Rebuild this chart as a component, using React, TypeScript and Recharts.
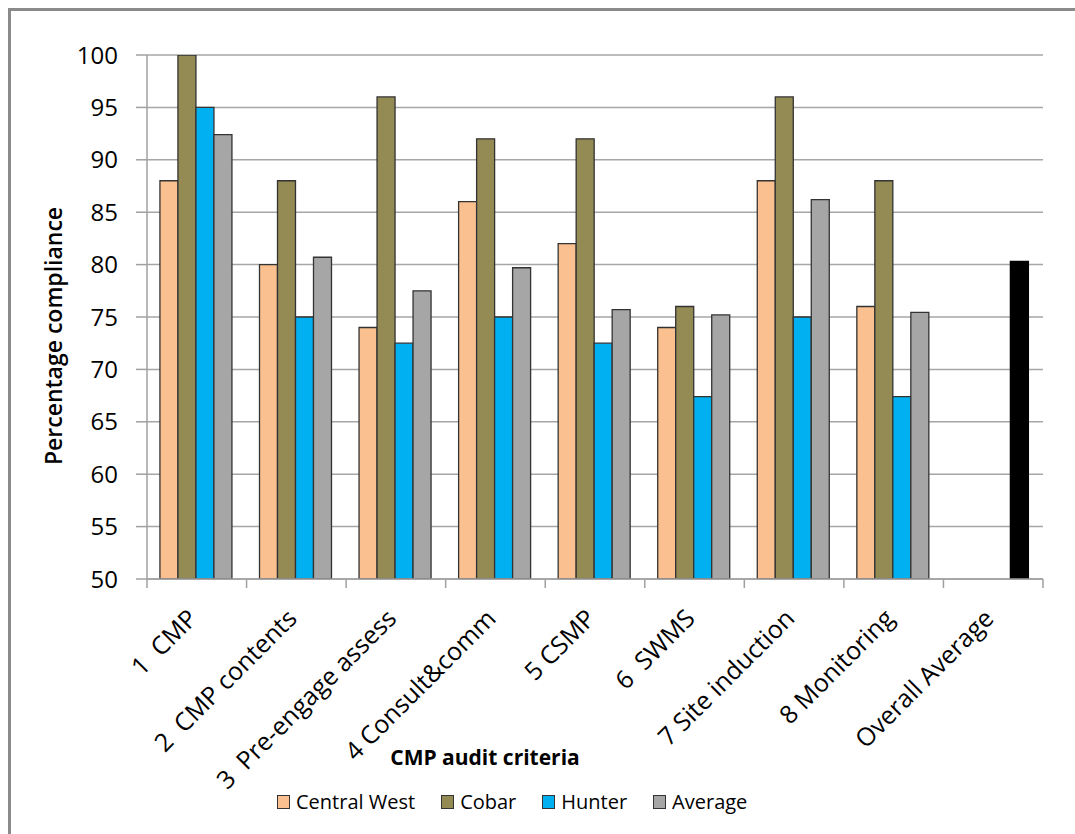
import React from 'react';
import { BarChart, Bar, XAxis, YAxis, CartesianGrid, Cell } from 'recharts';

const categories = [
  '1  CMP',
  '2  CMP contents',
  '3  Pre-engage assess',
  '4 Consult&comm',
  '5 CSMP',
  '6  SWMS',
  '7 Site induction',
  '8 Monitoring',
  'Overall Average',
];
const centralWest = [88, 80, 74, 86, 82, 74, 88, 76, null];
const cobar = [100, 88, 96, 92, 92, 76, 96, 88, null];
const hunter = [95, 75, 72.5, 75, 72.5, 67.4, 75, 67.4, null];
const average = [92.4, 80.7, 77.5, 79.7, 75.7, 75.2, 86.2, 75.45, 80.3];
const yTicks = [50, 55, 60, 65, 70, 75, 80, 85, 90, 95, 100];

const seriesNames = ['Central West', 'Cobar', 'Hunter', 'Average'];
const seriesKeys = ['cw', 'cobar', 'hunter', 'avg'];
const seriesColors = ['#FAC090', '#948A54', '#00B0F0', '#A6A6A6'];
const overallColor = '#000000';

const data = categories.map((c, i) => ({
  name: c,
  cw: centralWest[i],
  cobar: cobar[i],
  hunter: hunter[i],
  avg: average[i],
}));

const W = 1075;
const H = 834;
const PLOT_LEFT = 147;
const PLOT_RIGHT = 1043;
const PLOT_TOP = 55;
const PLOT_BOTTOM = 579;
const FONT = '"Open Sans", "DejaVu Sans", sans-serif';
const BAND = (PLOT_RIGHT - PLOT_LEFT) / categories.length;

const XTick = (props: any) => {
  const { x, y, payload, index } = props;
  const half = BAND / 2;
  const isLast = index === categories.length - 1;
  return (
    <g>
      <line x1={x - half} y1={y} x2={x - half} y2={y + 9} stroke="#a0a0a0" strokeWidth={1.5} />
      {isLast && <line x1={x + half} y1={y} x2={x + half} y2={y + 9} stroke="#a0a0a0" strokeWidth={1.5} />}
      <text
        transform={`translate(${x + 2},${y + 41}) rotate(-45)`}
        textAnchor="end"
        fontFamily={FONT}
        fontSize={25}
        fill="#000"
        style={{ whiteSpace: 'pre' }}
      >
        {payload.value}
      </text>
    </g>
  );
};

export default function App() {
  return (
    <div
      style={{
        position: 'fixed',
        left: 0,
        top: 0,
        width: W,
        height: H,
        overflow: 'hidden',
        background: '#fff',
      }}
    >
      <div
        style={{
          position: 'absolute',
          left: 8,
          top: 8,
          width: W + 40,
          height: H + 40,
          border: '3px solid #8a8a8a',
          boxSizing: 'border-box',
        }}
      />
      <div style={{ position: 'absolute', left: 0, top: 0 }}>
        <BarChart
          width={W}
          height={H}
          data={data}
          margin={{ top: PLOT_TOP, right: W - PLOT_RIGHT, left: 0, bottom: H - PLOT_BOTTOM - 60 }}
          barCategoryGap="13%"
          barGap={0}
        >
          <CartesianGrid vertical={false} stroke="#a6a6a6" strokeWidth={1.5} />
          <XAxis
            dataKey="name"
            height={60}
            interval={0}
            tickSize={0}
            tickMargin={0}
            tickLine={false}
            axisLine={{ stroke: '#a0a0a0', strokeWidth: 1.5 }}
            tick={<XTick />}
            label={{
              content: () => (
                <text
                  x={485}
                  y={765}
                  textAnchor="middle"
                  fontFamily={FONT}
                  fontWeight={700}
                  fontSize={21}
                  fill="#000"
                >
                  CMP audit criteria
                </text>
              ),
            }}
          />
          <YAxis
            width={PLOT_LEFT}
            domain={[50, 100]}
            ticks={yTicks}
            interval={0}
            allowDataOverflow
            tickSize={11}
            tickMargin={18}
            tickLine={{ stroke: '#a0a0a0', strokeWidth: 1.5 }}
            axisLine={{ stroke: '#a0a0a0', strokeWidth: 1.5 }}
            tick={{ fontFamily: FONT, fontSize: 24, fill: '#000' }}
            label={{
              content: () => (
                <text
                  transform={`translate(62,336) rotate(-90)`}
                  textAnchor="middle"
                  fontFamily={FONT}
                  fontSize={23}
                  fontWeight={600}
                  fill="#000"
                >
                  Percentage compliance
                </text>
              ),
            }}
          />
          {seriesKeys.map((k, si) => (
            <Bar
              key={k}
              dataKey={k}
              name={seriesNames[si]}
              fill={seriesColors[si]}
              stroke="#333"
              strokeWidth={1.3}
              isAnimationActive={false}
            >
              {k === 'avg'
                ? data.map((d, i) => (
                    <Cell
                      key={i}
                      fill={i === categories.length - 1 ? overallColor : seriesColors[si]}
                      stroke={i === categories.length - 1 ? overallColor : '#333'}
                    />
                  ))
                : null}
            </Bar>
          ))}
        </BarChart>
      </div>
      <div
        style={{
          position: 'absolute',
          left: 277,
          top: 788,
          display: 'flex',
          alignItems: 'center',
          fontFamily: FONT,
          fontSize: 20,
          color: '#000',
          whiteSpace: 'nowrap',
        }}
      >
        {seriesNames.map((n, i) => (
          <div key={n} style={{ display: 'flex', alignItems: 'center', marginRight: i < seriesNames.length - 1 ? 26 : 0 }}>
            <div
              style={{
                width: 11,
                height: 12,
                background: seriesColors[i],
                border: '1.5px solid #333',
                marginRight: 6,
              }}
            />
            <span>{n}</span>
          </div>
        ))}
      </div>
    </div>
  );
}
